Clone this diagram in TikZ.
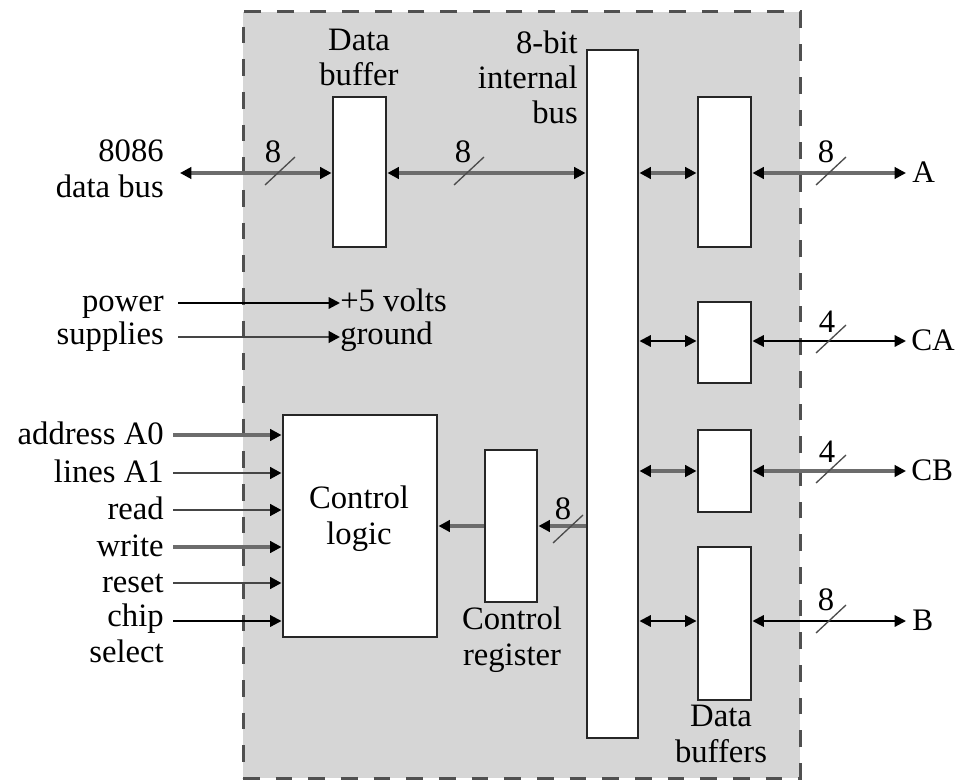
\documentclass[tikz,border=0pt]{standalone}
\usepackage{fontspec}
\setmainfont{Liberation Serif}
\usetikzlibrary{arrows.meta,fit}
\definecolor{panel}{HTML}{D6D6D6}
\definecolor{busgray}{HTML}{6C6C6C}
\definecolor{midgray}{HTML}{454545}
\definecolor{bordergray}{HTML}{505050}
\begin{document}
\begin{tikzpicture}[x=0.75pt,y=-0.75pt,
  every node/.style={font=\fontsize{24.5}{26.5}\selectfont, inner sep=0pt},
  lbl/.style={align=center},
  rlbl/.style={anchor=base west, font=\fontsize{23.5}{26}\selectfont},
  box/.style={draw=black!85, line width=2.2pt, fill=white, inner sep=0pt},
  thickbus/.style={draw=busgray, line width=3pt},
  medwire/.style={draw=midgray, line width=2.2pt},
  wire/.style={draw=black, line width=1.6pt},
  slashmk/.style={draw=black!70, line width=1pt},
  tipr/.style={-{Triangle[length=8.5pt,width=8.5pt,color=black]}},
  tipb/.style={{Triangle[length=8.5pt,width=8.5pt,color=black]}-{Triangle[length=8.5pt,width=8.5pt,color=black]}}
]
\useasboundingbox (0,0) rectangle (956,781);
% panel
\node[fill=panel, draw=bordergray, line width=2.25pt, dash pattern=on 12.5pt off 12pt,
      fit={(243,12) (800,778)}] (panel) {};

% boxes
\node[box, fit={(333,97) (386,247)}] (dbuf) {};
\node[box, fit={(587,50) (638,738)}] (ibus) {};
\node[box, fit={(698,97) (751,247)}] (bufA) {};
\node[box, fit={(698,302) (751,383)}] (bufCA) {};
\node[box, fit={(698,430) (751,512)}] (bufCB) {};
\node[box, fit={(698,547) (751,700)}] (bufB) {};
\node[box, fit={(283,415) (437,637)}] (ctl) {};
\node[box, fit={(485,450) (537,602)}] (creg) {};

% box labels (base = baseline of last line)
\node[lbl, anchor=base] (tdbuf) at (359,86) {Data\\buffer};
\node[align=right, anchor=base east] (tbus) at (578,124) {8-bit\\internal\\bus};
\node[lbl, anchor=base] (tctl) at (359,544) {Control\\logic};
\node[lbl, anchor=base] (tcreg) at (512,665) {Control\\register};
\node[lbl, anchor=base] (tdbufs) at (721,762) {Data\\buffers};

% left labels
\node[align=right, anchor=base east] (t8086) at (164,197) {8086\\data bus};
\node[anchor=base east] (tpow) at (164,311) {power};
\node[anchor=base east] (tsup) at (164,344) {supplies};
\node[anchor=base east] (ta0) at (164,444) {address A0};
\node[anchor=base east] (ta1) at (164,482) {lines A1};
\node[anchor=base east] (trd) at (164,519) {read};
\node[anchor=base east] (twr) at (164,556) {write};
\node[anchor=base east] (trs) at (164,592) {reset};
\node[align=right, anchor=base east] (tcs) at (164,662) {chip\\select};

% power targets
\node[anchor=base west] (tv5) at (340,311) {+5 volts};
\node[anchor=base west] (tgnd) at (340,344) {ground};

% right labels
\node[rlbl] (tA) at (912,182) {A};
\node[rlbl] (tCA) at (911,350) {CA};
\node[rlbl] (tCB) at (911,480) {CB};
\node[rlbl] (tB) at (912,630) {B};

% free ends
\coordinate (pdb) at (180,173);
\coordinate (ppow) at (178,303);
\coordinate (psup) at (178,337);
\coordinate (pa0) at (173,435);
\coordinate (pa1) at (173,473);
\coordinate (prd) at (173,510);
\coordinate (pwr) at (173,547);
\coordinate (prs) at (173,583);
\coordinate (pcs) at (173,621);
\coordinate (oA) at (906,173);
\coordinate (oCA) at (906,341);
\coordinate (oCB) at (906,471);
\coordinate (oB) at (906,621);

% data bus
\draw[thickbus, tipb] (pdb) -- (pdb -| dbuf.west);
\draw[thickbus, tipb] (dbuf.east |- pdb) -- (pdb -| ibus.west);
% bus to data buffers
\draw[thickbus, tipb] (oA -| ibus.east) -- (bufA.west |- oA);
\draw[thickbus, tipb] (bufA.east |- oA) -- (oA);
\draw[wire, tipb] (oCA -| ibus.east) -- (oCA -| bufCA.west);
\draw[wire, tipb] (oCA -| bufCA.east) -- (oCA);
\draw[thickbus, tipb] (oCB -| ibus.east) -- (oCB -| bufCB.west);
\draw[thickbus, tipb] (oCB -| bufCB.east) -- (oCB);
\draw[wire, tipb] (oB -| ibus.east) -- (oB -| bufB.west);
\draw[wire, tipb] (oB -| bufB.east) -- (oB);
% control register path
\draw[thickbus, tipr] (creg.center -| ibus.west) -- (creg.east);
\draw[thickbus, tipr] (creg.west) -- (creg.center -| ctl.east);
% power
\draw[wire, tipr] (ppow) -- (ppow -| tv5.west);
\draw[medwire, tipr] (psup) -- (psup -| tgnd.west);
% control inputs
\draw[thickbus, tipr] (pa0) -- (pa0 -| ctl.west);
\draw[medwire, tipr] (pa1) -- (pa1 -| ctl.west);
\draw[medwire, tipr] (prd) -- (prd -| ctl.west);
\draw[thickbus, tipr] (pwr) -- (pwr -| ctl.west);
\draw[medwire, tipr] (prs) -- (prs -| ctl.west);
\draw[wire, tipr] (pcs) -- (pcs -| ctl.west);

% slash marks with widths
\draw[slashmk] (280,171) +(-15,14) -- +(15,-14);
\node (w1) at (273,152) {8};
\draw[slashmk] (469,171) +(-15,14) -- +(15,-14);
\node (w2) at (463,152) {8};
\draw[slashmk] (831,171) +(-15,14) -- +(15,-14);
\node (w3) at (826,152) {8};
\draw[slashmk] (831,339) +(-15,14) -- +(15,-14);
\node (w4) at (827,322) {4};
\draw[slashmk] (831,469) +(-15,14) -- +(15,-14);
\node (w5) at (827,452) {4};
\draw[slashmk] (831,619) +(-15,14) -- +(15,-14);
\node (w6) at (826,600) {8};
\draw[slashmk] (568,529) +(-15,14) -- +(15,-14);
\node (w7) at (563,509) {8};
\end{tikzpicture}
\end{document}
